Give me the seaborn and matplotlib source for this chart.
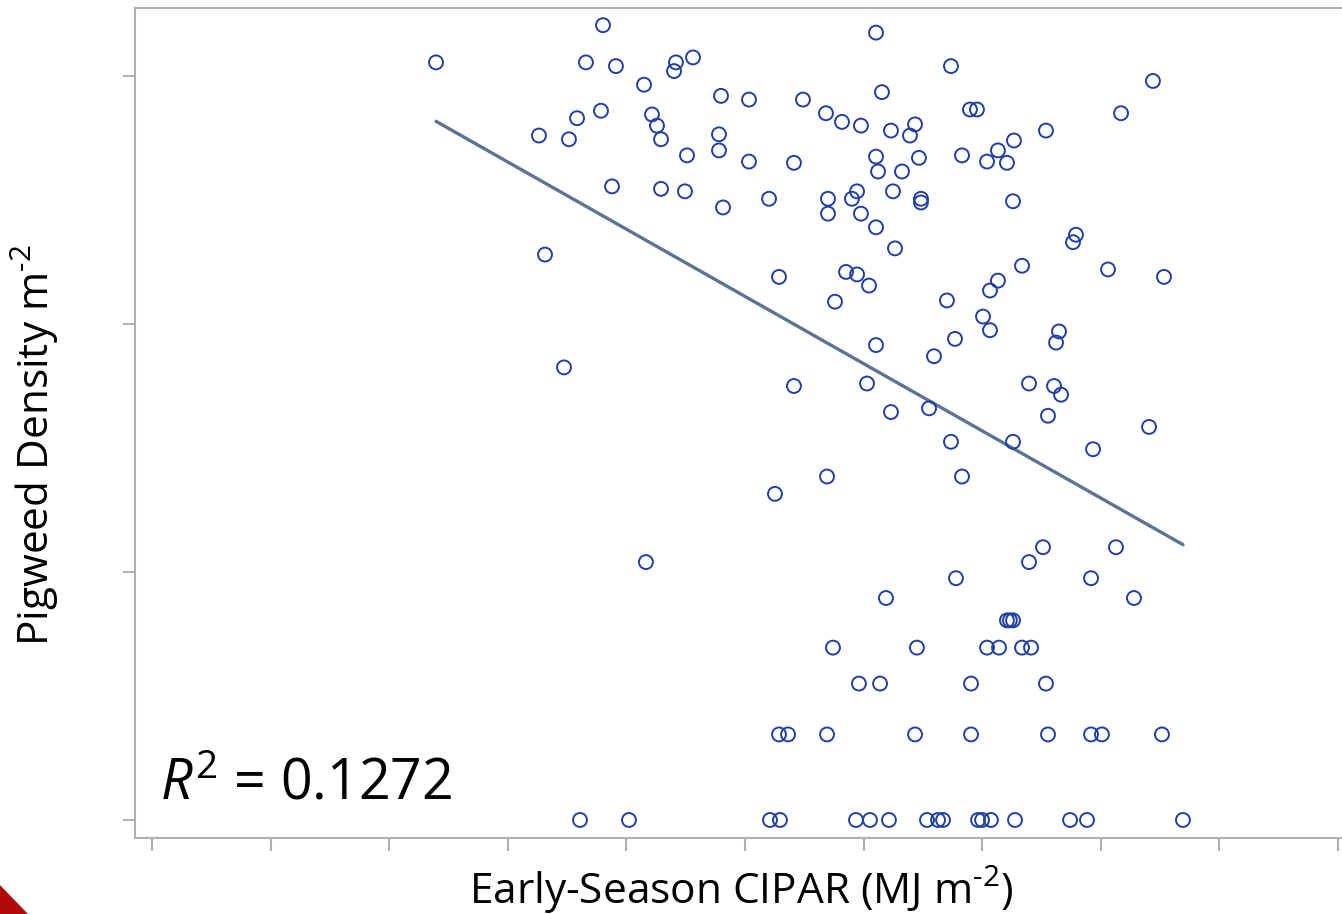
import numpy as np
import pandas as pd
import matplotlib
matplotlib.use("Agg")
import matplotlib.pyplot as plt
import seaborn as sns
from matplotlib.patches import Polygon

cipar = [
    23.95, 38.03, 61.05, 36.59, 39.12, 44.18, 44.02, 45.62, 41.49, 61.55,
    47.98, 50.34, 54.89, 67.37, 84.40, 68.97, 69.56, 56.83, 81.71, 58.18,
    59.78, 64.34, 35.84, 37.86, 42.16, 32.63, 35.16, 42.58, 42.92, 47.81,
    47.81, 62.31, 63.91, 75.38, 72.68, 71.33, 68.30, 50.34, 54.13, 61.05,
    64.67, 70.41, 72.09, 45.11, 61.22, 63.24, 38.79, 42.92, 44.94, 59.45,
    62.48, 48.15, 52.03, 57.00, 57.00, 59.02, 59.78, 64.84, 64.84, 72.60,
    61.05, 62.65, 77.91, 77.66, 33.14, 52.87, 58.52, 59.45, 60.46, 73.36,
    80.61, 85.33, 71.33, 70.66, 57.59, 67.03, 70.07, 70.66, 76.48, 76.23,
    67.71, 61.05, 65.94, 34.74, 54.13, 60.29, 73.95, 76.06, 76.65, 62.31,
    65.52, 75.55, 84.07, 67.37, 72.60, 79.35, 56.92, 68.30, 52.53, 41.65,
    75.13, 81.28, 73.95, 67.79, 79.18, 61.89, 82.80, 72.09, 72.34, 72.60,
    57.42, 64.50, 70.41, 71.42, 73.36, 74.12, 59.61, 61.39, 69.06, 75.38,
    52.87, 53.63, 56.92, 64.34, 69.06, 75.55, 79.18, 80.10, 85.16,
    36.09, 40.22, 52.11, 52.95, 59.36, 60.54, 62.14, 65.35, 66.28, 66.70,
    69.65, 69.99, 70.74, 72.77, 77.41, 78.84, 86.93,
]

# Pigweed density, ln(density + 1)
log_density = [
    6.11, 6.41, 6.35, 6.11, 6.08, 6.11, 6.04, 6.15, 5.93, 5.87,
    5.84, 5.81, 5.81, 6.08, 5.96, 5.73, 5.73, 5.70, 5.70, 5.63,
    5.60, 5.61, 5.66, 5.72, 5.69, 5.52, 5.49, 5.60, 5.49, 5.53,
    5.40, 5.56, 5.52, 5.56, 5.48, 5.40, 5.36, 5.31, 5.30, 5.35,
    5.34, 5.31, 5.30, 5.36, 5.23, 5.23, 5.11, 5.09, 5.07, 5.07,
    5.07, 4.94, 5.01, 5.01, 4.89, 5.01, 4.89, 5.01, 4.98, 4.99,
    4.78, 4.61, 4.72, 4.66, 4.56, 4.38, 4.42, 4.40, 4.31, 4.47,
    4.44, 4.38, 4.35, 4.27, 4.18, 4.19, 4.06, 3.95, 3.94, 3.85,
    3.88, 3.83, 3.74, 3.65, 3.50, 3.52, 3.52, 3.50, 3.43, 3.29,
    3.32, 3.26, 3.17, 3.05, 3.05, 2.99, 2.77, 2.77, 2.63, 2.08,
    2.20, 2.20, 2.08, 1.95, 1.95, 1.79, 1.79, 1.61, 1.61, 1.61,
    1.39, 1.39, 1.39, 1.39, 1.39, 1.39, 1.10, 1.10, 1.10, 1.10,
    0.69, 0.69, 0.69, 0.69, 0.69, 0.69, 0.69, 0.69, 0.69,
    0.0, 0.0, 0.0, 0.0, 0.0, 0.0, 0.0, 0.0, 0.0, 0.0,
    0.0, 0.0, 0.0, 0.0, 0.0, 0.0, 0.0,
]

x_ticks = [0, 10, 20, 30, 40, 50, 60, 70, 80, 90, 100]
y_ticks = [0, 2, 4, 6]
x_label = r"Early-Season CIPAR (MJ m$^{\text{-2}}$)"
y_label = r"Pigweed Density m$^{\text{-2}}$"
r2_text = r"$\mathit{R}^{2}$ = 0.1272"

df = pd.DataFrame({"cipar": cipar, "density": log_density})

sns.set_theme(style="white")
plt.rcParams["font.family"] = ["Open Sans", "DejaVu Sans"]
plt.rcParams["mathtext.fontset"] = "custom"
plt.rcParams["mathtext.rm"] = "Open Sans"
plt.rcParams["mathtext.it"] = "Open Sans:italic"
plt.rcParams["mathtext.default"] = "regular"

fig = plt.figure(figsize=(13.42, 9.14), dpi=100)
ax = fig.add_axes([0.1006, 0.0832, 0.8994, 0.9081])

point_color = "#1f3fa6"
line_color = "#5d7394"
spine_color = "#adb1b5"

sns.regplot(
    data=df, x="cipar", y="density", ax=ax, ci=None,
    scatter_kws=dict(s=100, facecolors="none", edgecolors=point_color,
                     linewidths=1.4, alpha=1, zorder=3),
    line_kws=dict(color=line_color, linewidth=2.4, zorder=2),
)

ax.set_xlim(-1.43, 100.34)
ax.set_ylim(-0.145, 6.549)
ax.set_xticks(x_ticks)
ax.set_yticks(y_ticks)
ax.set_xticklabels([])
ax.set_yticklabels([])
ax.tick_params(axis="both", direction="out", length=9, width=1.5,
               color=spine_color, bottom=True, left=True)
for side in ["left", "bottom", "top"]:
    ax.spines[side].set_color(spine_color)
    ax.spines[side].set_linewidth(1.5)
    ax.spines[side].set_visible(True)
ax.spines["right"].set_visible(False)

ax.set_xlabel(x_label, fontsize=30.5, color="black")
ax.set_ylabel(y_label, fontsize=30.5, color="black")
ax.xaxis.set_label_coords(0.502, -0.032)
ax.xaxis.label.set_va("top")
ax.yaxis.set_label_coords(-0.061, 0.4735)

ax.text(0.0207, 0.0458, r2_text, transform=ax.transAxes, fontsize=40,
        ha="left", va="baseline", color="black")

fig.patches.append(Polygon([[0, 0.0317], [0, 0], [0.0209, 0]], closed=True,
                           transform=fig.transFigure, facecolor="#b00a0a",
                           edgecolor="none"))

fig.savefig("out.png", dpi=100)
